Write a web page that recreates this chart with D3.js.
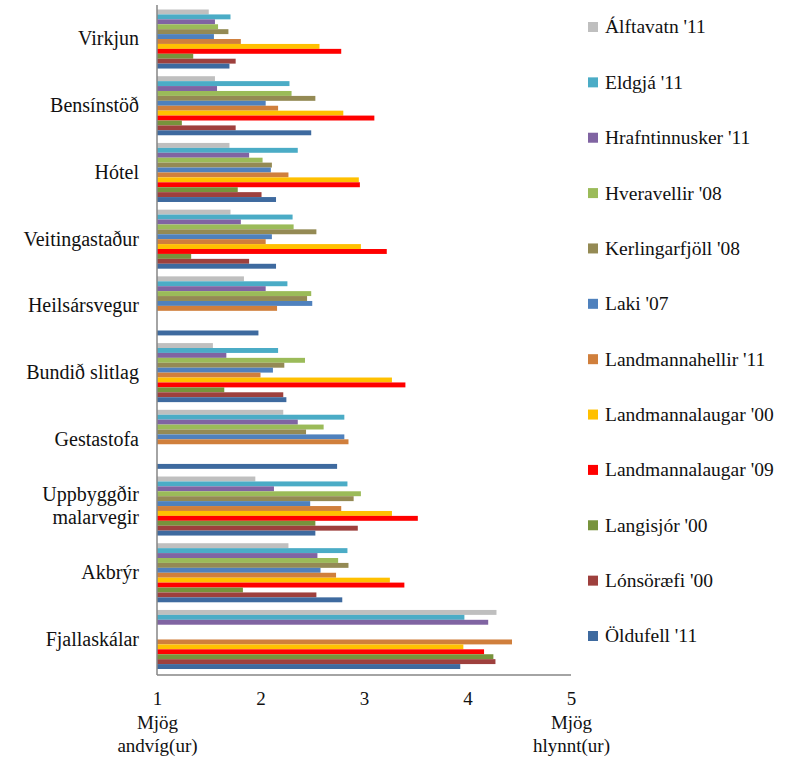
<!DOCTYPE html>
<html>
<head>
<meta charset="utf-8">
<script src="https://cdn.jsdelivr.net/npm/d3@7"></script>
<style>
  body { margin: 0; background: #fff; }
  text { font-family: "Liberation Serif", "Times New Roman", "DejaVu Serif", serif; fill: #111; }
</style>
</head>
<body>
<script>
//Width and height
var w = 792;
var h = 760;

//Categories, top to bottom
var categories = ["Virkjun", "Bensínstöð", "Hótel", "Veitingastaður", "Heilsársvegur",
  "Bundið slitlag", "Gestastofa", "Uppbyggðir malarvegir", "Akbrýr", "Fjallaskálar"];

var seriesNames = ["Álftavatn '11", "Eldgjá '11", "Hrafntinnusker '11", "Hveravellir '08",
  "Kerlingarfjöll '08", "Laki '07", "Landmannahellir '11", "Landmannalaugar '00",
  "Landmannalaugar '09", "Langisjór '00", "Lónsöræfi '00", "Öldufell '11"];

var colors = ["#BFBFBF", "#4BACC6", "#8064A2", "#9BBB59", "#948A54", "#4F81BD",
  "#D07F3C", "#FFC000", "#FF0000", "#77933C", "#9E403D", "#3E6A9F"];

//One array per series, values in category order (null = no bar)
var alftavatn11 = [1.50, 1.56, 1.70, 1.71, 1.84, 1.54, 2.22, 1.95, 2.27, 4.28];
var eldgja11 = [1.71, 2.28, 2.36, 2.31, 2.26, 2.17, 2.81, 2.84, 2.84, 3.97];
var hrafntinnusker11 = [1.56, 1.58, 1.89, 1.81, 2.05, 1.67, 2.36, 2.13, 2.55, 4.20];
var hveravellir08 = [1.59, 2.30, 2.02, 2.32, 2.49, 2.43, 2.61, 2.97, 2.75, null];
var kerlingarfjoll08 = [1.69, 2.53, 2.11, 2.54, 2.45, 2.23, 2.44, 2.90, 2.85, null];
var laki07 = [1.55, 2.05, 2.10, 2.11, 2.50, 2.12, 2.81, 2.48, 2.58, null];
var landmannahellir11 = [1.81, 2.17, 2.27, 2.05, 2.16, 2.00, 2.85, 2.78, 2.73, 4.43];
var landmannalaugar00 = [2.57, 2.80, 2.95, 2.97, null, 3.27, null, 3.27, 3.25, 3.96];
var landmannalaugar09 = [2.78, 3.10, 2.96, 3.22, null, 3.40, null, 3.52, 3.39, 4.16];
var langisjor00 = [1.35, 1.24, 1.78, 1.33, null, 1.65, null, 2.53, 1.83, 4.25];
var lonsoraefi00 = [1.76, 1.76, 2.01, 1.89, null, 2.22, null, 2.94, 2.54, 4.27];
var oldufell11 = [1.70, 2.49, 2.15, 2.15, 1.98, 2.25, 2.74, 2.53, 2.79, 3.93];

var seriesValues = [alftavatn11, eldgja11, hrafntinnusker11, hveravellir08, kerlingarfjoll08,
  laki07, landmannahellir11, landmannalaugar00, landmannalaugar09, langisjor00,
  lonsoraefi00, oldufell11];

//Axis tick labels
var xTicks = [1, 2, 3, 4, 5];
var xTickNotes = { 1: ["Mjög", "andvíg(ur)"], 5: ["Mjög", "hlynnt(ur)"] };

var serif = "'Liberation Serif', 'Times New Roman', serif";
var plotLeft = 157, plotRight = 571, plotTop = 5, plotBottom = 675;

var xScale = d3.scaleLinear().domain([1, 5]).range([plotLeft, plotRight]);

var yScale = d3.scaleBand()
  .domain(categories)
  .range([plotTop + 0.5, plotBottom - 2])
  .paddingInner(0.115)
  .paddingOuter(0.06);

var ySub = d3.scaleBand()
  .domain(seriesNames)
  .range([0, yScale.bandwidth()]);

var svg = d3.select("body").append("svg").attr("width", w).attr("height", h);

// bars
var rows = [];
seriesNames.forEach(function (s, i) {
  categories.forEach(function (c, j) {
    var v = seriesValues[i][j];
    if (v != null) rows.push({ series: s, cat: c, value: v, color: colors[i] });
  });
});

svg.append("g")
  .selectAll("rect")
  .data(rows)
  .enter()
  .append("rect")
  .attr("x", xScale(1))
  .attr("y", function (d) { return yScale(d.cat) + ySub(d.series); })
  .attr("width", function (d) { return xScale(d.value) - xScale(1); })
  .attr("height", ySub.bandwidth())
  .attr("fill", function (d) { return d.color; });

// axis lines
svg.append("line")
  .attr("x1", plotLeft).attr("x2", plotLeft)
  .attr("y1", plotTop).attr("y2", plotBottom)
  .attr("stroke", "#868686").attr("stroke-width", 1.5);
svg.append("line")
  .attr("x1", plotLeft).attr("x2", plotRight)
  .attr("y1", plotBottom).attr("y2", plotBottom)
  .attr("stroke", "#868686").attr("stroke-width", 1.5);

// y axis labels
var yAxis = d3.axisLeft(yScale).tickSize(0).tickPadding(18);
var yg = svg.append("g")
  .attr("transform", "translate(" + plotLeft + ",0)")
  .call(yAxis);
yg.select(".domain").remove();
yg.selectAll("text")
  .style("font-family", serif)
  .style("font-size", "20px")
  .attr("fill", "#111")
  .each(function (d) {
    var words = d.split(" ");
    if (d === "Uppbyggðir malarvegir") {
      var t = d3.select(this).text(null);
      t.append("tspan").attr("x", -18).attr("dy", "-0.27em").text(words[0]);
      t.append("tspan").attr("x", -18).attr("dy", "1.15em").text(words[1]);
    }
  });

// x axis labels
var xAxis = d3.axisBottom(xScale).tickValues(xTicks).tickSize(0).tickPadding(17)
  .tickFormat(d3.format("d"));
var xg = svg.append("g")
  .attr("transform", "translate(0," + plotBottom + ")")
  .call(xAxis);
xg.select(".domain").remove();
xg.selectAll("text")
  .style("font-family", serif)
  .style("font-size", "19px")
  .attr("fill", "#111");
xg.selectAll(".tick").each(function (d) {
  var notes = xTickNotes[d];
  if (!notes) return;
  var g = d3.select(this);
  notes.forEach(function (n, k) {
    g.append("text")
      .attr("y", 17 + 23.5 * (k + 1))
      .attr("dy", "0.71em")
      .attr("text-anchor", "middle")
      .attr("fill", "#111")
      .style("font-family", serif)
      .style("font-size", "19px")
      .text(n);
  });
});

// legend
var legY = d3.scalePoint().domain(seriesNames).range([27, 636]);
var leg = svg.append("g")
  .selectAll("g")
  .data(seriesNames)
  .enter()
  .append("g")
  .attr("transform", function (d) { return "translate(588," + legY(d) + ")"; });
leg.append("rect")
  .attr("x", 0).attr("y", -5)
  .attr("width", 10).attr("height", 10)
  .attr("fill", function (d, i) { return colors[i]; });
leg.append("text")
  .attr("x", 17)
  .attr("dy", "0.33em")
  .style("font-family", serif)
  .style("font-size", "19.5px")
  .text(function (d) { return d; });
</script>
</body>
</html>
